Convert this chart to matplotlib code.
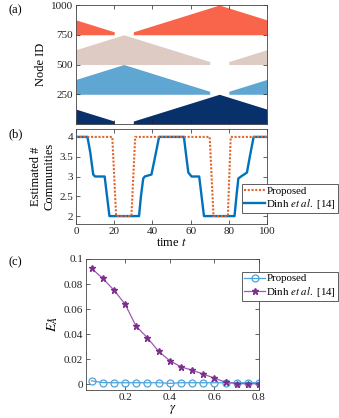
import numpy as np
import matplotlib.pyplot as plt

plt.rcParams['font.family'] = ['Liberation Serif', 'DejaVu Serif']
plt.rcParams['mathtext.fontset'] = 'stix'

# panel (a): community bands over time, drawn as pieces (white gaps where a community vanishes)
navy_t = [[0, 20], [30, 75, 100]]
navy_top = [[125, 25], [25, 250, 125]]
navy_base = 0
blue_t = [[0, 25, 70], [80, 100]]
blue_top = [[375, 500, 275], [275, 375]]
blue_base = 250
pink_t = [[0, 25, 70], [80, 100]]
pink_top = [[625, 750, 525], [525, 625]]
pink_base = 500
red_t = [[0, 20], [30, 75, 100]]
red_top = [[875, 775], [775, 1000, 875]]
red_base = 750

# panel (b): estimated number of communities
prop_t = [0, 19, 21, 29, 31, 70, 72, 79.5, 81, 100]
prop_n = [4, 4, 2, 2, 4, 4, 2, 2, 4, 4]
dinh_t = [0, 6, 7.5, 9, 10, 15, 16, 17.5, 33, 34, 35.2, 36, 39.5, 41, 43.5,
          56.5, 57.5, 58.8, 60.5, 64.5, 65.5, 67, 83, 84, 85, 87, 89.5, 91, 93, 100]
dinh_n = [4, 4, 3.6, 3.05, 3, 3, 2.6, 2, 2, 2.5, 2.95, 3, 3.05, 3.4, 4,
          4, 3.6, 3.1, 3, 3, 2.6, 2, 2, 2.5, 2.95, 3.02, 3.1, 3.5, 4, 4]

# panel (c): error vs gamma
gamma = [0.05, 0.1, 0.15, 0.2, 0.25, 0.3, 0.35, 0.4, 0.45, 0.5, 0.55, 0.6, 0.65, 0.7, 0.75, 0.8]
err_prop = [0.0028, 0.0014, 0.0013, 0.0013, 0.0013, 0.0013, 0.0013, 0.0008,
            0.0013, 0.0013, 0.0013, 0.0013, 0.0013, 0.0013, 0.0013, 0.0013]
err_dinh = [0.0925, 0.0845, 0.0752, 0.0640, 0.0462, 0.0372, 0.0264, 0.0189,
            0.0140, 0.0113, 0.0082, 0.0050, 0.0017, 0.0006, 0.0005, 0.0005]

frame_col = '#444444'


def style(ax):
    ax.tick_params(direction='in', top=True, right=True, length=3, width=0.5,
                   labelsize=8, colors='#222222', pad=2)
    for s in ax.spines.values():
        s.set_color(frame_col)
        s.set_linewidth(0.6)


def legend_box(ax, handles, top):
    leg = ax.legend(handles=handles, loc='upper left', bbox_to_anchor=(0.714, top),
                    bbox_transform=fig.transFigure, borderaxespad=0, fontsize=7.8,
                    fancybox=False, handlelength=1.9, handletextpad=0.15,
                    borderpad=0.2, labelspacing=0.1, framealpha=1)
    leg.get_frame().set_edgecolor(frame_col)
    leg.get_frame().set_linewidth(0.6)
    return leg


fig = plt.figure(figsize=(3.39, 4.18), dpi=100)

# (a)
ax1 = fig.add_axes([0.2242, 0.7033, 0.5634, 0.2847])
for ts, tops, base, col in [(navy_t, navy_top, navy_base, '#08306B'),
                            (blue_t, blue_top, blue_base, '#5FA6D2'),
                            (pink_t, pink_top, pink_base, '#DECBC4'),
                            (red_t, red_top, red_base, '#F9654A')]:
    for t, top in zip(ts, tops):
        ax1.fill_between(t, base, top, color=col, linewidth=0)
ax1.set_xlim(0, 100)
ax1.set_ylim(0, 1000)
ax1.set_xticks([0, 20, 40, 60, 80, 100])
ax1.set_xticklabels([])
ax1.set_yticks([250, 500, 750, 1000])
ax1.set_ylabel('Node ID', fontsize=9, labelpad=3)
style(ax1)

# (b)
ax2 = fig.add_axes([0.2242, 0.4641, 0.5634, 0.2273])
l2, = ax2.plot(dinh_t, dinh_n, color='#0072BD', lw=1.7, label='Dinh $\\mathit{et\\ al.}$ [14]')
l1, = ax2.plot(prop_t, prop_n, color='#E2652D', lw=1.5, ls=(0, (1, 0.8)), label='Proposed')
ax2.set_xlim(0, 100)
ax2.set_ylim(1.8, 4.2)
ax2.set_xticks([0, 20, 40, 60, 80, 100])
ax2.set_yticks([2, 2.5, 3, 3.5, 4])
ax2.set_yticklabels(['2', '2.5', '3', '3.5', '4'])
ax2.set_xlabel('time $t$', fontsize=9, labelpad=1)
ax2.set_ylabel('Estimated #\nCommunities', fontsize=9, labelpad=3)
style(ax2)
legend_box(ax2, [l1, l2], 0.56)

# (c)
ax3 = fig.add_axes([0.2537, 0.0670, 0.5103, 0.3134])
p1, = ax3.plot(gamma, err_prop, color='#4DA3DC', lw=0.9, marker='o', ms=5,
               mfc='none', mew=0.9, label='Proposed')
p2, = ax3.plot(gamma, err_dinh, color='#9D5BAF', lw=0.9, marker='*', ms=4.5,
               mfc='#7E2F8E', mec='#7E2F8E', label='Dinh $\\mathit{et\\ al.}$ [14]')
ax3.set_xlim(0.025, 0.8)
ax3.set_ylim(-0.0045, 0.1)
ax3.set_xticks([0.2, 0.4, 0.6, 0.8])
ax3.set_yticks([0, 0.02, 0.04, 0.06, 0.08, 0.1])
ax3.set_yticklabels(['0', '0.02', '0.04', '0.06', '0.08', '0.1'])
ax3.set_xlabel('$\\gamma$', fontsize=9, labelpad=1)
ax3.set_ylabel('$E_{\\hat{A}}$', fontsize=10, labelpad=3)
style(ax3)
legend_box(ax3, [p1, p2], 0.350)

fig.text(0.024, 0.968, '(a)', fontsize=9)
fig.text(0.024, 0.672, '(b)', fontsize=9)
fig.text(0.024, 0.365, '(c)', fontsize=9)

fig.savefig('out.png', dpi=100)
